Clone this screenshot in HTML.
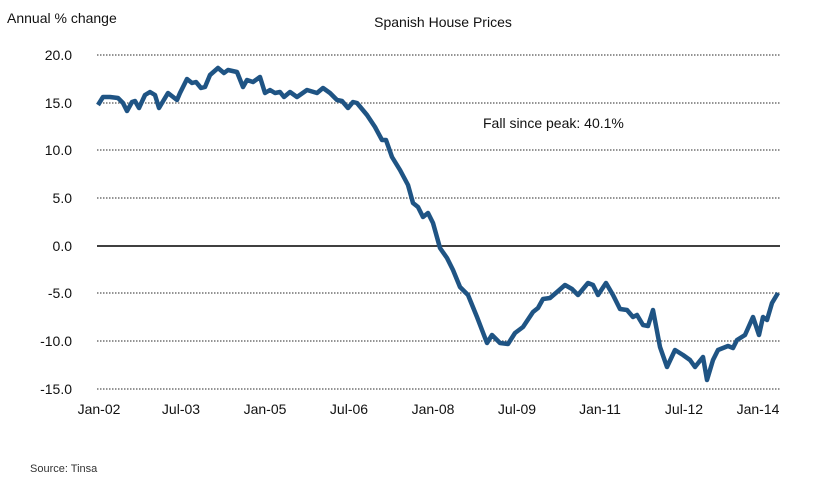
<!DOCTYPE html>
<html><head><meta charset="utf-8"><style>
body{margin:0;background:#fff;}
svg{display:block;font-family:"Liberation Sans",Arial,sans-serif;}
</style></head><body>
<svg width="831" height="486" viewBox="0 0 831 486">
<rect width="831" height="486" fill="#fff"/>
<g stroke="#555" stroke-width="1.2" stroke-dasharray="1.5,1.5">
<line x1="97" y1="55" x2="780" y2="55"/>
<line x1="97" y1="103" x2="780" y2="103"/>
<line x1="97" y1="150" x2="780" y2="150"/>
<line x1="97" y1="198" x2="780" y2="198"/>
<line x1="97" y1="293" x2="780" y2="293"/>
<line x1="97" y1="341" x2="780" y2="341"/>
<line x1="97" y1="389" x2="780" y2="389"/>
</g>
<line x1="97" y1="246" x2="780" y2="246" stroke="#000" stroke-width="1.5"/>
<g font-size="14" fill="#111" text-anchor="end">
<text x="72" y="60">20.0</text><text x="72" y="108">15.0</text><text x="72" y="155">10.0</text>
<text x="72" y="203">5.0</text><text x="72" y="251">0.0</text><text x="72" y="298">-5.0</text>
<text x="72" y="346">-10.0</text><text x="72" y="394">-15.0</text>
</g>
<g font-size="14" fill="#111" text-anchor="middle">
<text x="99" y="414">Jan-02</text><text x="181" y="414">Jul-03</text><text x="265" y="414">Jan-05</text>
<text x="349" y="414">Jul-06</text><text x="433" y="414">Jan-08</text><text x="517" y="414">Jul-09</text>
<text x="600" y="414">Jan-11</text><text x="684" y="414">Jul-12</text><text x="758" y="414">Jan-14</text>
</g>
<text x="7" y="23" font-size="14" fill="#111">Annual % change</text>
<text x="443" y="27" font-size="14" fill="#111" text-anchor="middle">Spanish House Prices</text>
<text x="483" y="128" font-size="14" fill="#111">Fall since peak: 40.1%</text>
<text x="30" y="472" font-size="11" fill="#333">Source: Tinsa</text>
<polyline fill="none" stroke="#1f5484" stroke-width="4.5" stroke-linejoin="round" points="98,105 103,97 110,97 118,98 123,103 127,111 132,102 135,101 139,108 145,95 150,92 155,95 159,108 168,93 177,100 180,93 187,79 192,83 196,82 201,88 205,87 210,75 218,68 224,73 228,70 237,72 243,87 247,80 253,82 260,77 265,93 270,90 275,93 280,92 284,97 290,92 297,97 307,90 317,93 323,88 330,93 337,100 342,101 348,108 353,102 357,103 367,115 375,127 382,140 386,140 392,157 400,170 408,185 413,203 418,207 423,217 428,213 433,223 440,248 447,258 453,270 460,287 468,295 477,317 487,343 492,335 500,343 508,344 515,333 523,327 533,312 538,308 543,299 550,298 557,292 565,285 572,289 578,295 588,283 593,285 598,295 606,283 613,295 620,309 627,310 633,317 637,315 643,325 648,326 653,310 660,347 667,367 675,350 683,355 690,360 695,367 703,357 707,380 713,360 718,350 728,346 733,348 737,340 745,335 753,317 759,335 763,317 767,320 772,303 778,293"/>
</svg>
</body></html>
